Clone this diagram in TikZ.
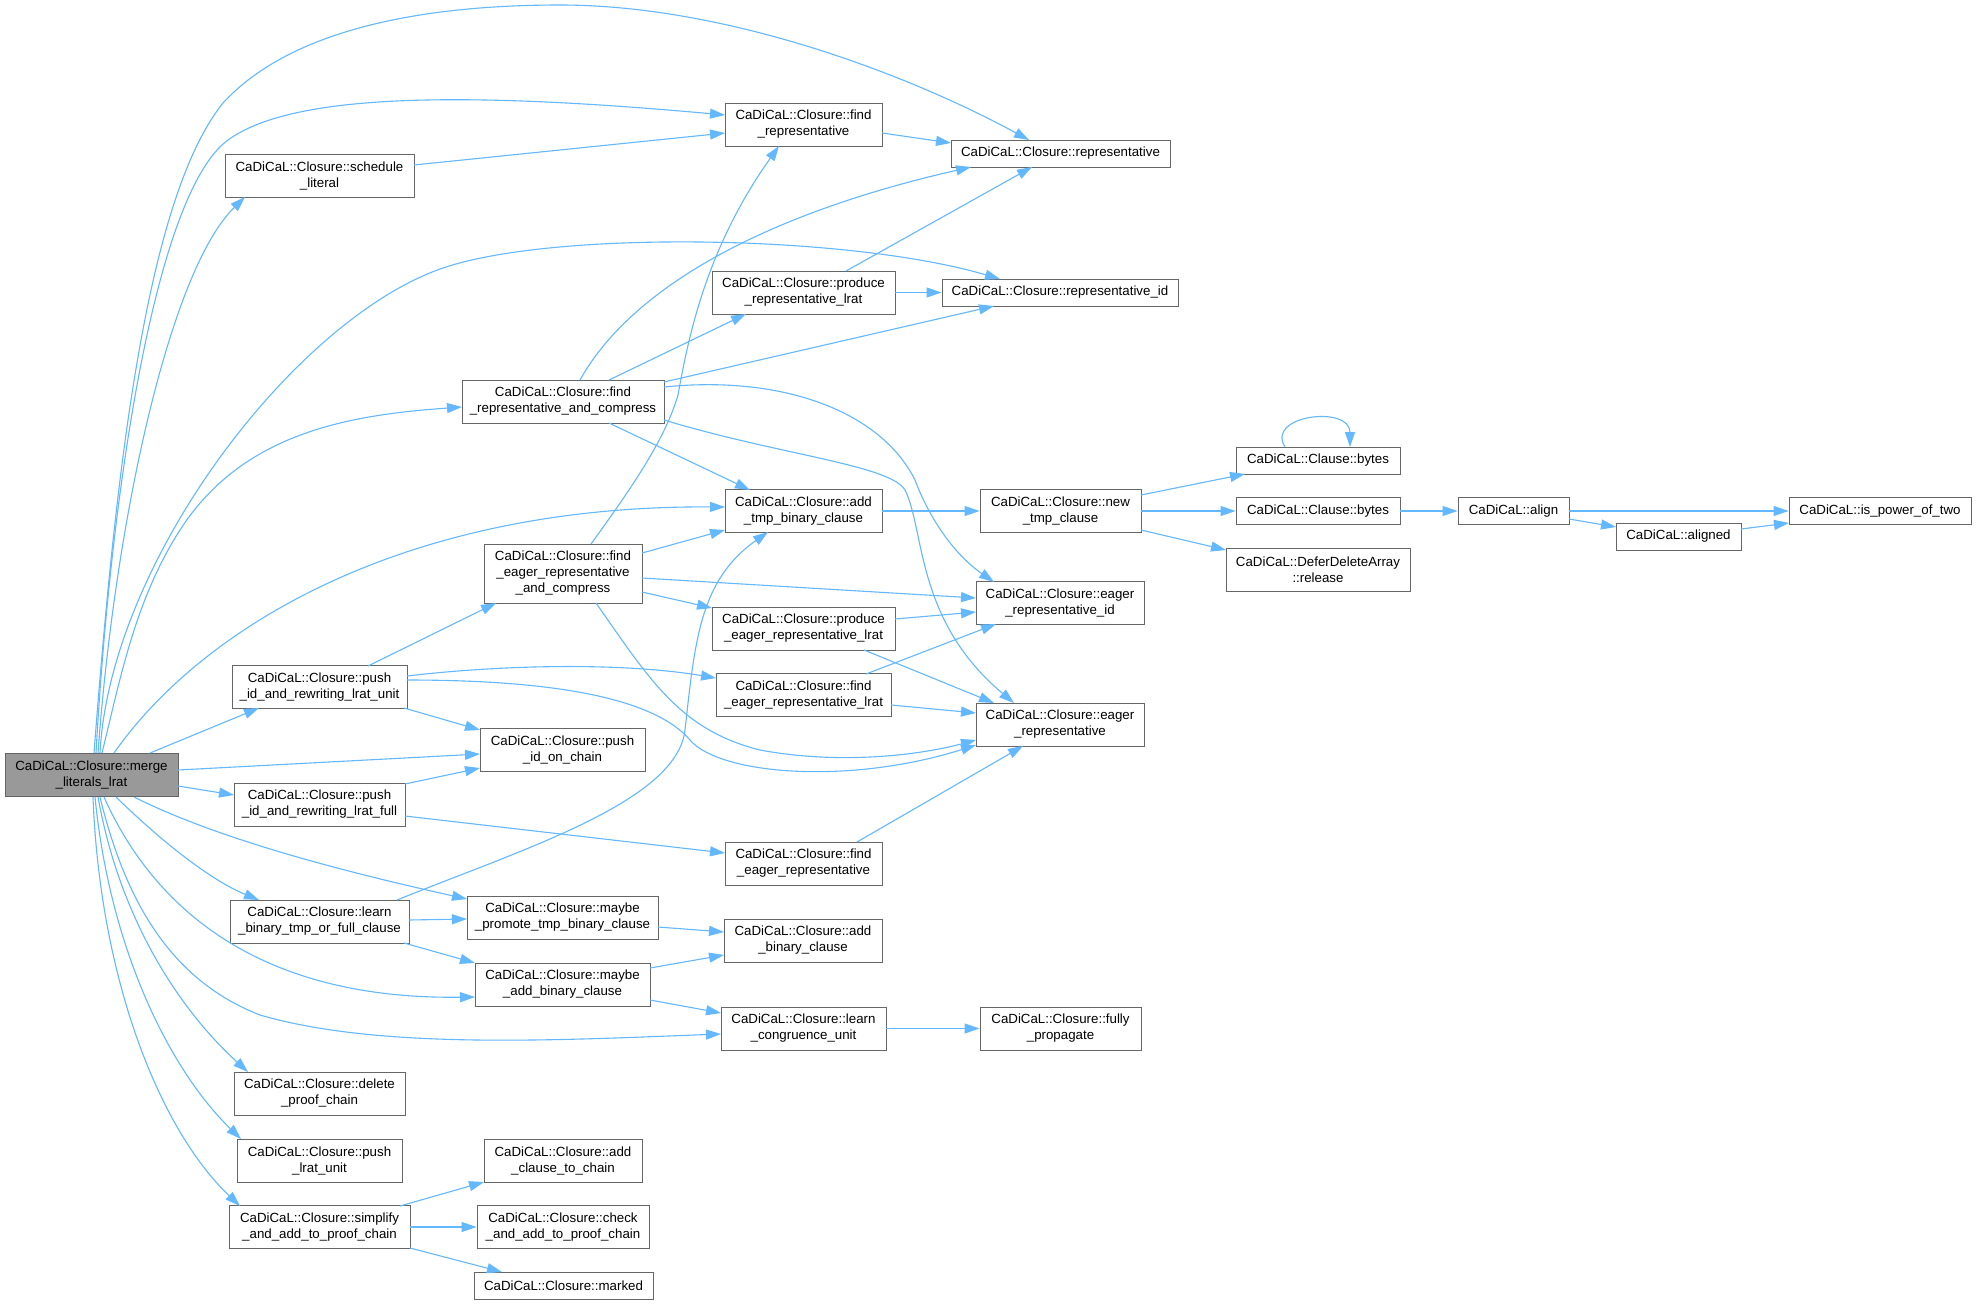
\documentclass[tikz,border=0pt]{standalone}
\usepackage{fontspec}
\setmainfont{Liberation Sans}
\usetikzlibrary{arrows.meta,calc}
\definecolor{edgeblue}{HTML}{63B8FF}
\definecolor{boxgray}{HTML}{666666}
\definecolor{rootgray}{HTML}{999999}
\newcommand{\cgfont}{\fontsize{13.3}{16}\selectfont}
\tikzset{
  fnbox/.style={draw=boxgray, line width=0.9pt, fill=white, align=center, inner xsep=4pt, inner ysep=0pt, font=\cgfont, text=black},
  oneline/.style={fnbox, minimum height=27pt},
  twoline/.style={fnbox, minimum height=43pt},
  threeline/.style={fnbox, minimum height=59pt},
  callarrow/.style={draw=edgeblue, line width=1.1pt, -{Triangle[length=15pt,width=10pt]}},
}
\begin{document}
\begin{tikzpicture}[x=1pt,y=-1pt]
\fill[white] (0,0) rectangle (1976,1304);
\useasboundingbox (0,0) rectangle (1976,1304);

% nodes
\node[twoline, fill=rootgray, minimum width=173pt] (M) at (91.5,775) {CaDiCaL::Closure::merge\\\_literals\_lrat};
\node[twoline, minimum width=189pt] (SL) at (319.5,175.5) {CaDiCaL::Closure::schedule\\\_literal};
\node[twoline, minimum width=157pt] (FR) at (803.5,124.5) {CaDiCaL::Closure::find\\\_representative};
\node[oneline, minimum width=219pt] (R) at (1060.5,153.5) {CaDiCaL::Closure::representative};
\node[twoline, minimum width=183pt] (PRL) at (803.5,292.5) {CaDiCaL::Closure::produce\\\_representative\_lrat};
\node[oneline, minimum width=236pt] (RID) at (1060,292.5) {CaDiCaL::Closure::representative\_id};
\node[twoline, minimum width=202pt] (FRC) at (563,401.5) {CaDiCaL::Closure::find\\\_representative\_and\_compress};
\node[twoline, minimum width=157pt] (ATBC) at (803.5,511) {CaDiCaL::Closure::add\\\_tmp\_binary\_clause};
\node[twoline, minimum width=161pt] (NTC) at (1060.5,511) {CaDiCaL::Closure::new\\\_tmp\_clause};
\node[oneline, minimum width=164pt] (CB1) at (1318,460.5) {CaDiCaL::Clause::bytes};
\node[oneline, minimum width=164pt] (CB2) at (1318,511) {CaDiCaL::Clause::bytes};
\node[oneline, minimum width=111pt] (AL) at (1513.5,511) {CaDiCaL::align};
\node[oneline, minimum width=182pt] (IP) at (1880,511) {CaDiCaL::is\_power\_of\_two};
\node[oneline, minimum width=125pt] (AD) at (1678.5,536.5) {CaDiCaL::aligned};
\node[twoline, minimum width=184pt] (DDA) at (1318,569.5) {CaDiCaL::DeferDeleteArray\\::release};
\node[threeline, minimum width=158pt] (FERC) at (563,573.5) {CaDiCaL::Closure::find\\\_eager\_representative\\\_and\_compress};
\node[twoline, minimum width=168pt] (ERI) at (1060,603) {CaDiCaL::Closure::eager\\\_representative\_id};
\node[twoline, minimum width=183pt] (PERL) at (803.5,628.5) {CaDiCaL::Closure::produce\\\_eager\_representative\_lrat};
\node[twoline, minimum width=175pt] (FERL) at (803.5,695) {CaDiCaL::Closure::find\\\_eager\_representative\_lrat};
\node[twoline, minimum width=168pt] (ER) at (1060,724.5) {CaDiCaL::Closure::eager\\\_representative};
\node[twoline, minimum width=175pt] (PU) at (319.5,687) {CaDiCaL::Closure::push\\\_id\_and\_rewriting\_lrat\_unit};
\node[twoline, minimum width=165pt] (PIC) at (562.5,749.5) {CaDiCaL::Closure::push\\\_id\_on\_chain};
\node[twoline, minimum width=171pt] (PF) at (319.5,804.5) {CaDiCaL::Closure::push\\\_id\_and\_rewriting\_lrat\_full};
\node[twoline, minimum width=157pt] (FER) at (803.5,863.5) {CaDiCaL::Closure::find\\\_eager\_representative};
\node[twoline, minimum width=179pt] (LB) at (319.5,921.5) {CaDiCaL::Closure::learn\\\_binary\_tmp\_or\_full\_clause};
\node[twoline, minimum width=191pt] (MP) at (562.5,917.5) {CaDiCaL::Closure::maybe\\\_promote\_tmp\_binary\_clause};
\node[twoline, minimum width=158pt] (ABC) at (803,940.5) {CaDiCaL::Closure::add\\\_binary\_clause};
\node[twoline, minimum width=175pt] (MA) at (562.5,984.5) {CaDiCaL::Closure::maybe\\\_add\_binary\_clause};
\node[twoline, minimum width=165pt] (LCU) at (803.5,1028.5) {CaDiCaL::Closure::learn\\\_congruence\_unit};
\node[twoline, minimum width=161pt] (FP) at (1060.5,1028.5) {CaDiCaL::Closure::fully\\\_propagate};
\node[twoline, minimum width=171pt] (DPC) at (319.5,1093.5) {CaDiCaL::Closure::delete\\\_proof\_chain};
\node[twoline, minimum width=165pt] (PLU) at (319.5,1160.5) {CaDiCaL::Closure::push\\\_lrat\_unit};
\node[twoline, minimum width=158pt] (ACC) at (563,1160.5) {CaDiCaL::Closure::add\\\_clause\_to\_chain};
\node[twoline, minimum width=181pt] (SAP) at (319.5,1227) {CaDiCaL::Closure::simplify\\\_and\_add\_to\_proof\_chain};
\node[twoline, minimum width=172pt] (CAP) at (563,1227) {CaDiCaL::Closure::check\\\_and\_add\_to\_proof\_chain};
\node[oneline, minimum width=179pt] (MK) at (563.5,1285.5) {CaDiCaL::Closure::marked};

% edges from merge_literals_lrat
\draw[callarrow] ($(M)+(2.5,-22)$) .. controls (115,480) and (145,200) .. (223,103) .. controls (290,30) and (420,5) .. (560,5) .. controls (720,5) and (900,70) .. ($(R)+(-31.5,-13.5)$);
\draw[callarrow] ($(M)+(4.5,-22)$) .. controls (110,500) and (154,194) .. (228,140) .. controls (290,95) and (450,90) .. ($(FR)+(-78.5,-9.5)$);
\draw[callarrow] ($(M)+(6.5,-22)$) .. controls (115,520) and (170,270) .. ($(SL)+(-74.5,21.5)$);
\draw[callarrow] ($(M)+(8.5,-22)$) .. controls (110,560) and (298,315) .. (446,267) .. controls (560,230) and (850,235) .. ($(RID)+(-60,-13.5)$);
\draw[callarrow] ($(M)+(10.5,-22)$) .. controls (120,680) and (135,600) .. (180,530) .. controls (243,432) and (350,415) .. ($(FRC)+(-101,5.5)$);
\draw[callarrow] ($(M)+(22.5,-22)$) .. controls (200,630) and (400,505) .. ($(ATBC)+(-78.5,-4)$);
\draw[callarrow] ($(M)+(58.5,-22)$) -- ($(PU)+(-60.5,21)$);
\draw[callarrow] ($(M)+(86.5,-5)$) -- ($(PIC)+(-82.5,4.5)$);
\draw[callarrow] ($(M)+(86.5,11)$) -- ($(PF)+(-85.5,-9.5)$);
\draw[callarrow] ($(M)+(24.5,22)$) .. controls (160,840) and (210,880) .. ($(LB)+(-60.5,-21.5)$);
\draw[callarrow] ($(M)+(42.5,22)$) .. controls (200,830) and (300,862) .. ($(MP)+(-95.5,-18.5)$);
\draw[callarrow] ($(M)+(12.5,22)$) .. controls (150,900) and (250,1000) .. ($(MA)+(-87.5,12.5)$);
\draw[callarrow] ($(M)+(8.5,22)$) .. controls (125,900) and (170,980) .. (260,1015) .. controls (380,1050) and (560,1040) .. ($(LCU)+(-82.5,5.5)$);
\draw[callarrow] ($(M)+(6.5,22)$) .. controls (120,920) and (180,1010) .. ($(DPC)+(-71.5,-21.5)$);
\draw[callarrow] ($(M)+(3.5,22)$) .. controls (110,950) and (170,1070) .. ($(PLU)+(-78.5,-21.5)$);
\draw[callarrow] ($(M)+(1.5,22)$) .. controls (100,980) and (160,1130) .. ($(SAP)+(-79.5,-21)$);

% other edges
\draw[callarrow] ($(SL)+(94.5,-10.5)$) -- ($(FR)+(-78.5,8.5)$);
\draw[callarrow] ($(FR)+(78.5,8.5)$) -- ($(R)+(-109.5,-10.5)$);
\draw[callarrow] ($(FRC)+(17,-21.5)$) .. controls (630,290) and (760,215) .. ($(R)+(-89.5,13.5)$);
\draw[callarrow] ($(FRC)+(46,-21.5)$) -- ($(PRL)+(-57.5,21.5)$);
\draw[callarrow] ($(FRC)+(101,-19.5)$) -- ($(RID)+(-66,13.5)$);
\draw[callarrow] ($(FRC)+(101,-14.5)$) .. controls (780,375) and (880,410) .. (915,480) .. controls (930,520) and (955,555) .. ($(ERI)+(-66,-21)$);
\draw[callarrow] ($(FRC)+(46,21.5)$) -- ($(ATBC)+(-53.5,-21)$);
\draw[callarrow] ($(FRC)+(101,18.5)$) .. controls (780,455) and (890,465) .. (905,490) .. controls (925,530) and (915,620) .. ($(ER)+(-46,-21.5)$);
\draw[callarrow] ($(PRL)+(42.5,-21.5)$) -- ($(R)+(-28.5,13.5)$);
\draw[callarrow] (PRL.east) -- (RID.west);
\draw[callarrow] ($(FERC)+(28,-29.5)$) .. controls (630,490) and (665,440) .. (678,395) .. controls (688,340) and (705,250) .. ($(FR)+(-24.5,21.5)$);
\draw[callarrow] ($(FERC)+(79,-20.5)$) -- ($(ATBC)+(-78.5,19)$);
\draw[callarrow] ($(FERC)+(79,4.5)$) -- ($(ERI)+(-84,-5)$);
\draw[callarrow] ($(FERC)+(79,18.5)$) -- ($(PERL)+(-91.5,-20.5)$);
\draw[callarrow] ($(FERC)+(33,29.5)$) .. controls (650,680) and (680,730) .. (760,750) .. controls (840,765) and (920,755) .. ($(ER)+(-84,15.5)$);
\draw[callarrow] ($(PU)+(48.5,-21)$) -- ($(FERC)+(-67,29.5)$);
\draw[callarrow] ($(PU)+(84.5,21)$) -- ($(PIC)+(-82.5,-19.5)$);
\draw[callarrow] ($(PU)+(87.5,-11)$) .. controls (500,665) and (620,662) .. ($(FERL)+(-87.5,-17)$);
\draw[callarrow] ($(PU)+(87.5,-7)$) .. controls (580,680) and (660,705) .. (690,740) .. controls (720,775) and (850,785) .. ($(ER)+(-84,20.5)$);
\draw[callarrow] ($(PF)+(85.5,-20.5)$) -- ($(PIC)+(-82.5,18.5)$);
\draw[callarrow] ($(PF)+(85.5,11.5)$) -- ($(FER)+(-78.5,-10.5)$);
\draw[callarrow] ($(PERL)+(91.5,-9.5)$) -- ($(ERI)+(-84,9)$);
\draw[callarrow] ($(PERL)+(60.5,21.5)$) -- ($(ER)+(-66,-21.5)$);
\draw[callarrow] ($(FERL)+(62.5,-21)$) -- ($(ERI)+(-64,21)$);
\draw[callarrow] ($(FERL)+(87.5,10)$) -- ($(ER)+(-84,-11.5)$);
\draw[callarrow] ($(FER)+(53.5,-21.5)$) -- ($(ER)+(-37,21.5)$);
\draw[callarrow] (ATBC.east) -- (NTC.west);
\draw[callarrow] ($(NTC)+(80.5,-16)$) -- ($(CB1)+(-73,13.5)$);
\draw[callarrow] (NTC.east) -- (CB2.west);
\draw[callarrow] ($(NTC)+(80.5,19)$) -- ($(DDA)+(-92,-19.5)$);
\draw[callarrow] ($(CB1)+(-33,-13.5)$) .. controls (1265,415) and (1350,405) .. ($(CB1)+(32,-13.5)$);
\draw[callarrow] (CB2.east) -- (AL.west);
\draw[callarrow] (AL.east) -- (IP.west);
\draw[callarrow] ($(AL)+(55.5,8)$) -- ($(AD)+(-62.5,-9.5)$);
\draw[callarrow] ($(AD)+(62.5,-7.5)$) -- ($(IP)+(-91,12)$);
\draw[callarrow] ($(LB)+(77.5,-21.5)$) .. controls (520,850) and (677,802) .. (685,730) .. controls (695,640) and (700,580) .. ($(ATBC)+(-35.5,21)$);
\draw[callarrow] ($(LB)+(89.5,-1.5)$) -- ($(MP)+(-95.5,1.5)$);
\draw[callarrow] ($(LB)+(84.5,21.5)$) -- ($(MA)+(-87.5,-21.5)$);
\draw[callarrow] ($(MP)+(95.5,9.5)$) -- ($(ABC)+(-79,-8.5)$);
\draw[callarrow] ($(MA)+(87.5,-16.5)$) -- ($(ABC)+(-79,14.5)$);
\draw[callarrow] ($(MA)+(87.5,15.5)$) -- ($(LCU)+(-82.5,-15.5)$);
\draw[callarrow] (LCU.east) -- (FP.west);
\draw[callarrow] ($(SAP)+(80.5,-21)$) -- ($(ACC)+(-79,21.5)$);
\draw[callarrow] (SAP.east) -- (CAP.west);
\draw[callarrow] ($(SAP)+(90.5,21)$) -- ($(MK)+(-61.5,-13.5)$);
\end{tikzpicture}
\end{document}
